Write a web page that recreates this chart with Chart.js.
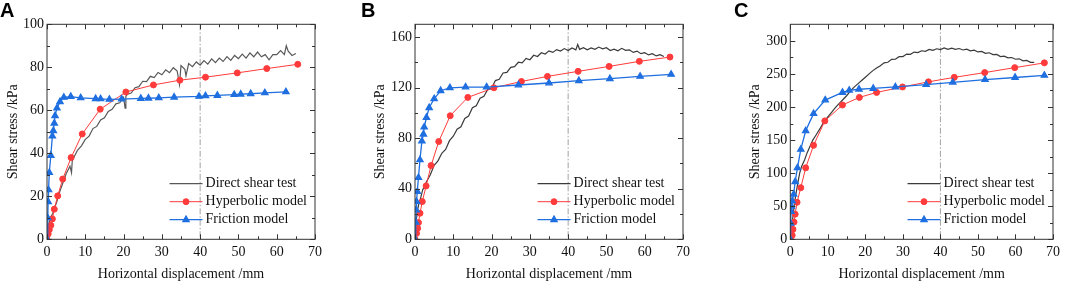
<!DOCTYPE html>
<html>
<head>
<meta charset="utf-8">
<script src="https://cdn.jsdelivr.net/npm/chart.js@4.4.1/dist/chart.umd.min.js"></script>
<style>
  body { margin: 0; width: 1065px; height: 282px; background: #fff; position: relative; overflow: hidden; }
  canvas { position: absolute; top: 0; }
  .letter { position: absolute; top: 0; font: bold 20px/20px "Liberation Sans", Arial, sans-serif; color: #000; }
</style>
</head>
<body>
<canvas id="chartA" width="355" height="282" style="left:0"></canvas>
<canvas id="chartB" width="355" height="282" style="left:355px"></canvas>
<canvas id="chartC" width="355" height="282" style="left:710px"></canvas>
<div class="letter" style="left:0">A</div>
<div class="letter" style="left:361px">B</div>
<div class="letter" style="left:734px">C</div>
<script>
const seriesNames = ["Direct shear test", "Hyperbolic model", "Friction model"];
const xTicks = [0, 10, 20, 30, 40, 50, 60, 70];

// Panel A
const yTicksA = [0, 20, 40, 60, 80, 100];
const testA_x = [0,0.3,0.6,1,1.5,2,2.5,3,3.5,4,5,6,6.4,6.6,7,8,9,10,11,12,13,14,15,16,17,18,19,20,20.4,20.6,21,22,23,24,25,26,27,28,29,30,31,32,33,34,34.6,35,36,36.3,37,38,39,40,41,42,43,44,45,46,47,48,49,50,51,52,53,54,55,56,57,58,59,60,61,62,62.5,63,64,65];
const testA_y = [0,4.5,8,10.5,12,15,17,20.5,23,25.5,30.5,34,31,36.5,38,41.5,43.5,46.5,48,51.5,52.5,55.5,56.5,59.5,60.5,63,63.5,66,61,66.5,67.5,68,70.5,71,73.5,73.3,75.8,75.2,77.6,76.5,78.8,77.5,79.8,78.3,72,80.8,79.1,76,81.7,80.3,82.5,81,83.1,81.5,83.9,82.2,84.3,82.7,85,83.2,85.5,84,86.1,84.3,86.7,84.9,87.1,84.9,85.9,83.5,85.9,85.9,87.8,85.9,90,87.5,85.5,86.4];
const hypA_x = [0,0.3,0.6,1,1.4,1.9,2.8,4.1,6.3,9.2,13.9,20.6,27.8,34.7,41.4,49.7,57.4,65.5];
const hypA_y = [0,2.5,4.5,6.5,9.5,14,20.2,28,38,49,60.5,68.5,71.8,74,75.4,77.4,79.4,81.4];
const friA_x = [0,0.2,0.3,0.4,0.6,1,1.4,1.65,1.9,2.1,2.6,3.4,4.4,6.2,8.8,12.7,14,16.3,19.5,24.5,26.5,29.2,33.2,39.7,41.4,44.5,48.9,50.6,53.2,56.9,62.4];
const friA_y = [0,10,17.5,23,31,39,48,50.5,54,57.5,61,64,66,66.4,65.8,65.4,65.3,65.1,65.2,65.5,65.6,65.8,66.1,66.5,66.7,66.9,67.3,67.5,67.7,68.1,68.6];

// Panel B
const yTicksB = [0, 40, 80, 120, 160];
const testB_x = [0,0.3,0.6,1,1.5,2,2.5,3,4,5,6,7,8,9,10,11,12,13,14,15,16,17,18,19,20,21,22,23,24,25,26,27,28,29,30,31,32,33,34,35,36,37,38,39,40,41,42,42.5,43,44,45,46,47,48,49,50,51,52,53,54,55,56,57,58,59,60,61,62,63,64,65];
const testB_y = [0,14,22,28,33,39,42,45.5,51,58.5,62,68,71,78,81.5,87,89,95.5,97.5,104,105.5,111.5,113,118.5,119.5,125.5,126.5,131.5,132,136,136.5,140,139.5,143,142,145.5,144.5,147.5,146.5,149,147.8,150,148.8,150.8,149.2,151.3,149.8,154,150.2,151.5,149.8,151.3,150.2,152,150.6,151.5,149.3,150.3,149,151,149.4,149.8,147.8,148.8,146.8,147.6,145.8,146.8,145,146,144.6];
const hypB_x = [0,0.4,0.7,0.9,1.3,1.9,2.9,4.2,6.2,9.2,13.8,20.6,27.8,34.6,42.6,50.7,58.6,66.6];
const hypB_y = [0,4.7,8.7,13.2,20.6,29.8,42.2,58.3,77.3,97.7,112.2,119.8,124.8,128.8,132.8,136.7,140.7,144.1];
const friB_x = [0,0.2,0.3,0.4,0.6,0.9,1.3,1.8,2.2,2.4,3,3.7,5,6.7,9.1,13.2,18.7,27,35,42.8,50.9,58.8,66.9];
const friB_y = [0,13.4,23.2,29.8,37.7,48.8,62.8,77.6,83.1,88.7,96.3,104,111.1,117.5,119.8,120.4,120.4,122,123.6,125.4,127,128.8,130.4];

// Panel C
const yTicksC = [0, 50, 100, 150, 200, 250, 300];
const testC_x = [0,0.4,0.8,1.2,1.7,2.1,2.5,3,3.8,4.5,5.2,6,6.9,8,9,10,11,12,13,14,15,16,17,18,19,20,21,22,23,24,25,26,27,28,29,30,31,32,33,34,35,36,37,38,39,40,41,42,43,44,45,46,47,48,49,50,51,52,53,54,55,56,57,58,59,60,61,62,63,64,65];
const testC_y = [0,20,39,58,75,88,100,110,120,131,140,150,158,168,178,185,192,199,205,211,217,224,230,235,240,245,250,255,259,262.5,266.8,267.6,272,272.2,276,276.2,280,279.6,283,282.2,285,284.2,287,285.6,288,286.8,289.2,287.2,289,287.2,288.4,286.2,287.4,285,286,283.2,284,281.2,282,279.2,279.4,276.2,276.8,274.2,274.8,272.2,272.8,269.8,270.3,267.4,267.5];
const hypC_x = [0,0.5,0.7,1,1.3,1.8,2.8,4.1,6.2,9.2,13.9,18.4,23,29.9,36.8,43.7,51.8,59.8,67.7];
const hypC_y = [0,6,15,26,38,56,78,108,142,179,203,214.5,222,230.3,238,244.8,252,259.5,266.7];
const friC_x = [0,0.1,0.2,0.3,0.5,0.9,1.3,1.9,2.8,4.1,6.2,9.3,13.9,15.7,18.3,22.1,28,36.2,43.3,51.9,59.9,67.7];
const friC_y = [0,24,42,50,58,68,87,108,136,164,190,210.5,222,225.2,226.8,228,230.3,233.8,237.3,241.4,244.6,247.8];

const serif = '"Liberation Serif", "Times New Roman", serif';
const red = "#ff3b3b";
const blue = "#1f6fe0";

function pts(xs, ys) {
  return xs.map((x, i) => ({ x: x, y: ys[i] }));
}

// frame, inward ticks and the dash-dot line at 40 mm
const framePlugin = {
  id: "frame",
  beforeDatasetsDraw(chart) {
    const { ctx, chartArea: a, scales } = chart;
    const px = scales.x.getPixelForValue(40);
    ctx.save();
    ctx.strokeStyle = "#8a8a8a";
    ctx.lineWidth = 0.8;
    ctx.setLineDash([6, 2, 1.5, 2]);
    ctx.beginPath();
    ctx.moveTo(px, a.top);
    ctx.lineTo(px, a.bottom);
    ctx.stroke();
    ctx.restore();
  },
  afterDraw(chart) {
    const { ctx, chartArea: a, scales } = chart;
    ctx.save();
    ctx.strokeStyle = "#333";
    ctx.lineWidth = 1;
    ctx.strokeRect(a.left, a.top, a.right - a.left, a.bottom - a.top);
    ["x", "y"].forEach((k) => {
      const s = scales[k];
      const vals = s.ticks.map((t) => t.value);
      const marks = [];
      vals.forEach((v, i) => {
        marks.push([v, 5]);
        if (i < vals.length - 1) marks.push([(v + vals[i + 1]) / 2, 3]);
      });
      ctx.beginPath();
      marks.forEach(([v, len]) => {
        const p = Math.round(s.getPixelForValue(v)) + 0.5;
        if (k === "x") {
          ctx.moveTo(p, a.bottom); ctx.lineTo(p, a.bottom - len);
          ctx.moveTo(p, a.top); ctx.lineTo(p, a.top + len);
        } else {
          ctx.moveTo(a.left, p); ctx.lineTo(a.left + len, p);
          ctx.moveTo(a.right, p); ctx.lineTo(a.right - len, p);
        }
      });
      ctx.stroke();
    });
    ctx.restore();
  },
};

const legendPlugin = {
  id: "innerLegend",
  afterDraw(chart) {
    const { ctx, chartArea: a } = chart;
    const ds = chart.data.datasets;
    ctx.save();
    ctx.font = "14px " + serif;
    const w = Math.max(...ds.map((d) => ctx.measureText(d.label).width));
    const tx = a.right - 8 - w;
    ds.forEach((d, i) => {
      const yy = a.bottom - 55.6 + i * 18;
      ctx.strokeStyle = d.borderColor;
      ctx.fillStyle = d.backgroundColor;
      ctx.lineWidth = d.borderWidth;
      ctx.beginPath();
      ctx.moveTo(tx - 36, yy);
      ctx.lineTo(tx - 3, yy);
      ctx.stroke();
      if (d.pointRadius > 0) {
        Chart.helpers.drawPoint(ctx, { pointStyle: d.pointStyle, radius: d.pointRadius, borderWidth: 1, rotation: 0 }, tx - 19.5, yy);
      }
      ctx.fillStyle = "#111";
      ctx.textBaseline = "middle";
      ctx.fillText(d.label, tx, yy);
    });
    ctx.restore();
  },
};

function panel(id, p) {
  new Chart(document.getElementById(id), {
    type: "scatter",
    data: {
      datasets: [
        { label: seriesNames[0], data: pts(p.testX, p.testY), showLine: true, borderColor: p.testColor, backgroundColor: p.testColor, borderWidth: 1.2, pointRadius: 0, order: 3 },
        { label: seriesNames[1], data: pts(p.hypX, p.hypY), showLine: true, borderColor: red, backgroundColor: red, borderWidth: 1, pointRadius: 3, pointStyle: "circle", order: 2 },
        { label: seriesNames[2], data: pts(p.friX, p.friY), showLine: true, borderColor: blue, backgroundColor: blue, borderWidth: 1.3, pointRadius: 3.6, pointStyle: "triangle", order: 1 },
      ],
    },
    options: {
      animation: false,
      responsive: false,
      layout: { padding: { left: p.padL, right: p.padR, top: 24.3, bottom: 0.5 } },
      plugins: { legend: { display: false }, tooltip: { enabled: false } },
      scales: {
        x: {
          type: "linear", min: 0, max: 70,
          afterBuildTicks: (s) => { s.ticks = xTicks.map((v) => ({ value: v })); },
          afterFit: (s) => { s.height = 42.2; },
          grid: { display: false, drawTicks: false },
          border: { display: false },
          ticks: { color: "#111", font: { family: serif, size: 14 }, padding: 5, maxRotation: 0 },
          title: { display: true, text: "Horizontal displacement /mm", color: "#111", font: { family: serif, size: 14, lineHeight: 1 }, padding: 0 },
        },
        y: {
          type: "linear", min: 0, max: p.yMax,
          afterBuildTicks: (s) => { s.ticks = p.yTicks.map((v) => ({ value: v })); },
          afterFit: (s) => { s.width = p.yWidth; },
          grid: { display: false, drawTicks: false },
          border: { display: false },
          ticks: { color: "#111", font: { family: serif, size: 14 }, padding: 3 },
          title: { display: true, text: "Shear stress /kPa", color: "#111", font: { family: serif, size: 14, lineHeight: 1 }, padding: 0 },
        },
      },
    },
    plugins: [framePlugin, legendPlugin],
  });
}

panel("chartA", { testX: testA_x, testY: testA_y, hypX: hypA_x, hypY: hypA_y, friX: friA_x, friY: friA_y, testColor: "#585858", yMax: 100, yTicks: yTicksA, padL: 6, yWidth: 41, padR: 40 });
panel("chartB", { testX: testB_x, testY: testB_y, hypX: hypB_x, hypY: hypB_y, friX: friB_x, friY: friB_y, testColor: "#3a3a3a", yMax: 170, yTicks: yTicksB, padL: 18, yWidth: 42, padR: 27 });
panel("chartC", { testX: testC_x, testY: testC_y, hypX: hypC_x, hypY: hypC_y, friX: friC_x, friY: friC_y, testColor: "#3a3a3a", yMax: 325, yTicks: yTicksC, padL: 38, yWidth: 42.3, padR: 7 });
</script>
</body>
</html>
